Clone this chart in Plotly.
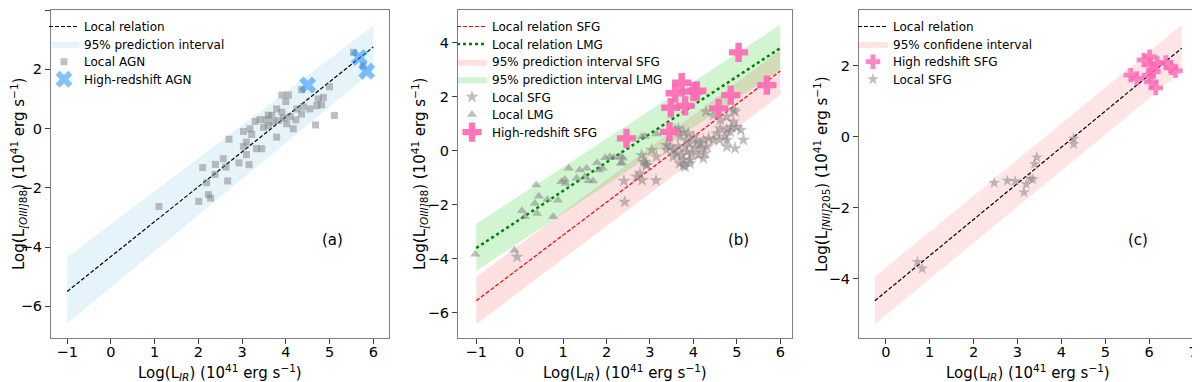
import plotly.graph_objects as go
from plotly.subplots import make_subplots

# ---- panel (a): [OIII]88 vs IR, AGN ----
a_line_x = [-1, 6]
a_line_y = [-5.5, 2.75]
a_band_lo = [-6.58, 1.95]
a_band_hi = [-4.35, 3.47]
agn_x = [1.10, 2.01, 2.23, 2.28, 2.10, 2.39, 2.57, 2.38, 2.19, 2.67, 2.93, 3.10, 2.63, 3.16, 3.10,
         3.33, 3.45, 3.03, 2.70, 3.22, 3.03, 3.18, 3.30, 3.41, 3.49, 3.60, 3.71, 3.83, 3.91, 3.68,
         3.79, 3.79, 4.02, 4.17, 4.23, 4.25, 4.40, 4.36, 4.68, 4.55, 4.71, 4.82, 5.11, 4.74, 4.86,
         5.00, 4.36, 3.91, 4.06, 4.00, 5.55, 5.77, 3.55, 3.95, 3.60, 4.10]
agn_y = [-2.63, -2.46, -2.23, -2.35, -1.32, -1.21, -1.02, -1.55, -1.83, -1.77, -1.16, -0.88, -1.30, -1.22, -0.46,
         -0.68, -0.68, -0.61, -0.36, -0.20, -0.10, -0.01, 0.24, 0.30, 0.04, 0.10, 0.21, 0.27, 0.55, 0.44,
         0.66, -0.29, 0.16, -0.01, 0.29, 0.66, 0.74, 0.49, 0.12, 0.66, 0.77, 0.80, 0.44, 1.00, 1.05,
         1.41, 1.31, 1.13, 1.13, 0.91, 2.57, 2.12, 0.30, 0.35, 0.45, 0.40]
hz_agn_x = [4.50, 5.68, 5.85]
hz_agn_y = [1.47, 2.40, 1.93]

# ---- panel (b): [OIII]88 vs IR, SFG / LMG ----
b_line_x = [-1, 6]
sfg_line_y = [-5.55, 2.95]
lmg_line_y = [-3.60, 3.80]
sfg_band_lo = [-6.42, 2.06]
sfg_band_hi = [-4.67, 3.73]
lmg_band_lo = [-4.44, 2.99]
lmg_band_hi = [-2.71, 4.66]
sfg_x = [4.29, 4.46, 4.62, 4.77, 4.96, 4.92, 4.88, 4.85, 5.00, 5.09, 4.77, 4.62, 4.54, 4.73, 4.77,
         4.60, 4.46, 4.35, 4.23, 4.15, 4.08, 4.00, 3.88, 3.77, 3.65, 3.58, 3.69, 3.85, 3.92, 3.81,
         3.65, 3.54, 3.46, 3.38, 3.38, 3.62, 3.73, 3.85, 3.96, 4.04, 4.19, 4.31, 4.27, 4.12, 3.92,
         3.77, 3.68, 4.23, 3.81, 4.77, 4.96, 5.15, 2.85, 2.92, 2.81, 3.15, 3.04, -0.06, 2.40, 2.42,
         2.82, 3.14, 2.69, 2.77, 2.92, 2.90, 3.54, 3.77, 3.92, 4.92]
sfg_y = [1.45, 1.32, 1.14, 1.26, 1.45, 1.08, 0.87, 0.70, 0.87, 0.77, 0.77, 0.83, 0.64, 0.52, 0.40,
         0.40, 0.40, 0.46, 0.40, 0.27, 0.33, 0.52, 0.64, 0.70, 0.83, 0.77, 0.52, 0.40, 0.27, 0.15,
         0.15, 0.03, 0.15, 0.21, 0.03, -0.10, -0.16, -0.04, -0.10, 0.09, 0.09, 0.15, -0.10, -0.16, -0.34,
         -0.34, -0.47, -0.28, -0.59, 0.15, 0.09, 0.40, -0.41, -0.53, -0.16, -0.22, 0.03, -3.93, -1.12, -1.89,
         -1.09, -1.10, -0.96, -0.84, -0.53, -0.44, -0.22, -0.55, -0.47, 1.51]
lmg_x = [-1.02, -0.12, 0.05, 0.12, 0.38, 0.44, 0.35, 0.40, 0.64, 0.77, 0.88, 0.96, 1.04, 1.06, 1.13,
         1.31, 1.54, 1.58, 1.69, 1.78, 1.83, 1.91, 1.97, 2.08, 2.17, 2.33, 2.35, 2.38, 2.81, 2.88,
         3.15, 1.38, 1.50, 2.33]
lmg_y = [-3.83, -3.68, -2.22, -2.44, -1.27, -1.68, -1.95, -2.32, -1.80, -2.44, -1.83, -1.15, -1.06, -1.21, -0.65,
         -1.02, -0.65, -1.11, -1.12, -0.44, -0.71, -0.65, -0.26, -0.22, -0.25, -0.22, -0.44, -0.28, 0.52, 0.54,
         0.62, -0.71, -0.96, -0.47]
hz_sfg_b_x = [2.46, 3.45, 3.48, 3.58, 3.73, 3.81, 4.00, 4.08, 4.58, 4.86, 5.04, 5.69]
hz_sfg_b_y = [0.46, 0.70, 1.59, 2.13, 2.52, 1.66, 2.19, 2.22, 1.57, 2.06, 3.64, 2.43]

# ---- panel (c): [NII]205 vs IR ----
c_line_x = [-0.25, 6.74]
c_line_y = [-4.63, 2.50]
c_band_lo = [-5.29, 1.84]
c_band_hi = [-3.95, 3.16]
c_sfg_x = [0.72, 0.83, 2.47, 2.77, 2.95, 3.15, 3.20, 3.29, 3.35, 3.39, 3.44, 4.28, 4.28]
c_sfg_y = [-3.53, -3.72, -1.30, -1.24, -1.25, -1.57, -1.34, -1.18, -1.20, -0.77, -0.58, -0.05, -0.21]
c_hz_x = [5.58, 5.72, 5.88, 6.01, 6.03, 6.10, 6.18, 6.05, 6.15, 6.38, 6.50, 6.60, 5.99]
c_hz_y = [1.74, 1.65, 2.17, 2.26, 2.03, 1.84, 2.07, 1.55, 1.38, 2.10, 1.95, 1.86, 1.74]

FONT = "DejaVu Sans"
GREY_PT = "rgba(128,128,128,0.5)"
PINK = "rgba(255,105,180,0.92)"
FINE_DASH = "4px,2px"
# the page body adds an 8px margin, so the figure is drawn 8px smaller than the window
W, H = 1192, 374
H_PLOT = H - 44  # paper height (figure minus bottom margin)

fig = make_subplots(rows=1, cols=3)

# one small legend per entry, so rows can sit closer than plotly's default spacing
legend_style = dict(xanchor="left", yanchor="top", bgcolor="rgba(0,0,0,0)",
                    font=dict(size=12), itemwidth=30)
legends = {}


def leg(x_px, row):
    key = f"legend{len(legends) + 2}"
    legends[key] = dict(x=x_px / W, y=1 - (4 + 17.6 * row) / H_PLOT, **legend_style)
    return key


def band(xs, lo, hi, color, name, col, legend):
    # polygon built from the lower/upper edges
    fig.add_trace(go.Scatter(x=xs + xs[::-1], y=hi + lo[::-1], fill="toself", fillcolor=color,
                             line=dict(width=0), mode="lines", name=name, legend=legend,
                             showlegend=True, hoverinfo="skip"), row=1, col=col)


# panel a
LA = 36
band(a_line_x, a_band_lo, a_band_hi, "rgba(135,206,235,0.22)", "95% prediction interval", 1, leg(LA, 1))
fig.add_trace(go.Scatter(x=a_line_x, y=a_line_y, mode="lines", line=dict(color="black", width=1.2, dash=FINE_DASH),
                         name="Local relation", legend=leg(LA, 0)), row=1, col=1)
fig.add_trace(go.Scatter(x=agn_x, y=agn_y, mode="markers", marker=dict(symbol="square", size=7, color=GREY_PT),
                         name="Local AGN", legend=leg(LA, 2)), row=1, col=1)
fig.add_trace(go.Scatter(x=hz_agn_x, y=hz_agn_y, mode="markers",
                         marker=dict(symbol="x", size=15, color="rgba(30,144,255,0.55)"),
                         name="High-redshift AGN", legend=leg(LA, 3)), row=1, col=1)

# panel b
LB = 444
band(b_line_x, sfg_band_lo, sfg_band_hi, "rgba(255,0,0,0.12)", "95% prediction interval SFG", 2, leg(LB, 2))
band(b_line_x, lmg_band_lo, lmg_band_hi, "rgba(0,200,0,0.18)", "95% prediction interval LMG", 2, leg(LB, 3))
fig.add_trace(go.Scatter(x=b_line_x, y=sfg_line_y, mode="lines", line=dict(color="red", width=1.2, dash=FINE_DASH),
                         name="Local relation SFG", legend=leg(LB, 0)), row=1, col=2)
fig.add_trace(go.Scatter(x=b_line_x, y=lmg_line_y, mode="lines", line=dict(color="green", width=2.5, dash="dot"),
                         name="Local relation LMG", legend=leg(LB, 1)), row=1, col=2)
fig.add_trace(go.Scatter(x=sfg_x, y=sfg_y, mode="markers", marker=dict(symbol="star", size=10, color=GREY_PT),
                         name="Local SFG", legend=leg(LB, 4)), row=1, col=2)
fig.add_trace(go.Scatter(x=lmg_x, y=lmg_y, mode="markers",
                         marker=dict(symbol="triangle-up", size=9, color=GREY_PT),
                         name="Local LMG", legend=leg(LB, 5)), row=1, col=2)
fig.add_trace(go.Scatter(x=hz_sfg_b_x, y=hz_sfg_b_y, mode="markers",
                         marker=dict(symbol="cross", size=16, color=PINK),
                         name="High-redshift SFG", legend=leg(LB, 6)), row=1, col=2)

# panel c
LC = 845
band(c_line_x, c_band_lo, c_band_hi, "rgba(255,0,0,0.1)", "95% confidene interval", 3, leg(LC, 1))
fig.add_trace(go.Scatter(x=c_line_x, y=c_line_y, mode="lines", line=dict(color="black", width=1.2, dash=FINE_DASH),
                         name="Local relation", legend=leg(LC, 0)), row=1, col=3)
fig.add_trace(go.Scatter(x=c_sfg_x, y=c_sfg_y, mode="markers", marker=dict(symbol="star", size=9, color=GREY_PT),
                         name="Local SFG", legend=leg(LC, 3)), row=1, col=3)
fig.add_trace(go.Scatter(x=c_hz_x, y=c_hz_y, mode="markers",
                         marker=dict(symbol="cross", size=12, color="rgba(255,105,180,0.8)"),
                         name="High redshift SFG", legend=leg(LC, 2)), row=1, col=3)

y_dom = [0, 1 - 2 / H_PLOT]
axis_style = dict(showline=True, linecolor="rgb(128,128,128)", linewidth=1, mirror=True,
                  ticks="outside", ticklen=5, tickcolor="rgb(60,60,60)", showgrid=False, zeroline=False,
                  tickfont=dict(size=14.5, color="black"))

x_title = "Log(L<sub><i>IR</i></sub>) (10<sup>41</sup> erg s<sup>−1</sup>)"
y_title_o3 = "Log(L<sub><i>[OIII]</i>88</sub>) (10<sup>41</sup> erg s<sup>−1</sup>)"
y_title_n2 = "Log(L<sub><i>[NII]</i>205</sub>) (10<sup>41</sup> erg s<sup>−1</sup>)"

x_domains = [[43 / W, 381 / W], [450 / W, 784 / W], [851 / W, 1189 / W]]
y_title_x = [10 / W, 411 / W, 813 / W]
ttl_font = dict(size=15, color="black")

annotations = [
    dict(text="(a)", x=5.06, y=-3.77, xref="x", yref="y", showarrow=False, font=dict(size=15)),
    dict(text="(b)", x=5.03, y=-3.31, xref="x2", yref="y2", showarrow=False, font=dict(size=15)),
    dict(text="(c)", x=5.75, y=-2.92, xref="x3", yref="y3", showarrow=False, font=dict(size=15)),
]
for dom, yx, yt in zip(x_domains, y_title_x, [y_title_o3, y_title_o3, y_title_n2]):
    annotations.append(dict(text=x_title, x=(dom[0] + dom[1]) / 2, y=(H_PLOT - 364) / H_PLOT,
                            xref="paper", yref="paper", xanchor="center", yanchor="middle",
                            showarrow=False, font=ttl_font))
    annotations.append(dict(text=yt, x=yx, y=(H_PLOT - 166) / H_PLOT, xref="paper", yref="paper",
                            textangle=-90, xanchor="center", yanchor="middle", showarrow=False, font=ttl_font))

fig.update_layout(
    template="none",
    width=W, height=H,
    showlegend=True,
    margin=dict(l=0, r=0, t=0, b=44),
    font=dict(family=FONT, color="black"),
    paper_bgcolor="white", plot_bgcolor="white",
    xaxis=dict(domain=x_domains[0], range=[-1.37, 6.36], dtick=1, ticklabelstandoff=-4, **axis_style),
    xaxis2=dict(domain=x_domains[1], range=[-1.42, 6.27], dtick=1, ticklabelstandoff=-4, **axis_style),
    xaxis3=dict(domain=x_domains[2], range=[-0.61, 7.09], dtick=1, ticklabelstandoff=-4, **axis_style),
    yaxis=dict(domain=y_dom, range=[-7.07, 4.0], dtick=2, **axis_style),
    yaxis2=dict(domain=y_dom, range=[-6.93, 5.21], dtick=2, **axis_style),
    yaxis3=dict(domain=y_dom, range=[-5.68, 3.58], dtick=2, **axis_style),
    annotations=annotations,
    **legends,
)

fig.write_html("out.html")
